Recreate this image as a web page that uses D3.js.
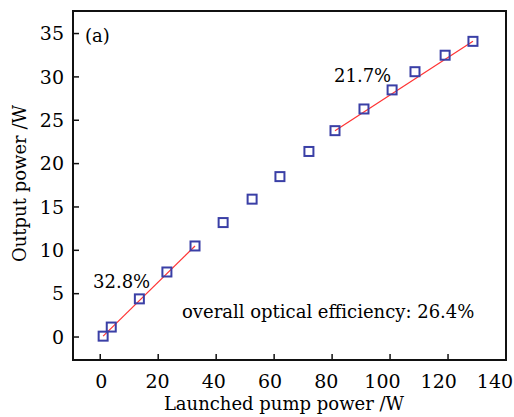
<!DOCTYPE html>
<html>
<head>
<meta charset="utf-8">
<script src="https://cdn.jsdelivr.net/npm/d3@7"></script>
<style>
  body { margin: 0; background: #fff; }
  text { font-family: "DejaVu Serif", serif; fill: #000; }
</style>
</head>
<body>
<div id="chart"></div>
<script>
/* ===== Data ===== */
const pumpPower   = [1.0, 3.8, 13.5, 23.0, 32.7, 42.4, 52.4, 62.0, 72.0, 81.0, 91.0, 100.7, 108.6, 119.0, 128.6];
const outputPower = [0.1, 1.15, 4.4, 7.5, 10.5, 13.2, 15.9, 18.5, 21.4, 23.8, 26.3, 28.5, 30.6, 32.5, 34.1];
const xTicks = [0, 20, 40, 60, 80, 100, 120, 140];
const yTicks = [0, 5, 10, 15, 20, 25, 30, 35];
// index ranges of the two fitted segments
const fitSegments = [[0, 4], [9, 14]];
const annotations = ["(a)", "32.8%", "21.7%", "overall optical efficiency: 26.4%"];

const width = 514, height = 417;
const margin = {top: 11, right: 8, bottom: 57, left: 73};

const svg = d3.select("#chart").append("svg")
              .attr("width", width)
              .attr("height", height);

const x = d3.scaleLinear()
            .domain([-9.4, 140])
            .range([margin.left, width - margin.right]);

const y = d3.scaleLinear()
            .domain([-2.65, 37.6])
            .range([height - margin.bottom, margin.top]);

// labels in the original sit a little left of their ticks towards the right end
const xLabel = d3.scaleLinear()
                 .domain([0, 140])
                 .range([x(0) + 1, x(140) - 11]);

// ticks (pointing inwards)
svg.append("g")
   .selectAll("line")
   .data(xTicks.filter(d => d < 140))
   .join("line")
   .attr("x1", d => x(d)).attr("x2", d => x(d))
   .attr("y1", height - margin.bottom).attr("y2", height - margin.bottom - 6)
   .attr("stroke", "#111").attr("stroke-width", 1.5);

svg.append("g")
   .selectAll("line")
   .data(yTicks)
   .join("line")
   .attr("x1", margin.left).attr("x2", margin.left + 6)
   .attr("y1", d => y(d)).attr("y2", d => y(d))
   .attr("stroke", "#111").attr("stroke-width", 1.5);

// tick labels
svg.append("g")
   .selectAll("text")
   .data(xTicks)
   .join("text")
   .attr("x", d => xLabel(d))
   .attr("y", height - margin.bottom + 28)
   .attr("text-anchor", "middle")
   .attr("font-size", 19)
   .text(d => d);

svg.append("g")
   .selectAll("text")
   .data(yTicks)
   .join("text")
   .attr("x", margin.left - 9)
   .attr("y", d => y(d))
   .attr("dy", "0.35em")
   .attr("text-anchor", "end")
   .attr("font-size", 19)
   .text(d => d);

// frame
svg.append("rect")
   .attr("x", margin.left).attr("y", margin.top)
   .attr("width", width - margin.left - margin.right)
   .attr("height", height - margin.top - margin.bottom)
   .attr("fill", "none")
   .attr("stroke", "#111")
   .attr("stroke-width", 2);

// fitted lines, straight between the first and last point of each segment
const line = d3.line().x(i => x(pumpPower[i])).y(i => y(outputPower[i]));
svg.append("g")
   .selectAll("path")
   .data(fitSegments)
   .join("path")
   .attr("d", d => line(d))
   .attr("fill", "none")
   .attr("stroke", "#f33")
   .attr("stroke-width", 1.2);

// square markers
svg.append("g")
   .selectAll("rect")
   .data(pumpPower.map((p, i) => [p, outputPower[i]]))
   .join("rect")
   .attr("x", d => x(d[0]) - 4.5)
   .attr("y", d => y(d[1]) - 4.5)
   .attr("width", 9).attr("height", 9)
   .attr("fill", "none")
   .attr("stroke", "#3a3fa6")
   .attr("stroke-width", 2);

// annotations
svg.append("text").attr("x", 85).attr("y", 42).attr("font-size", 18).text(annotations[0]);
svg.append("text").attr("x", 93).attr("y", 288).attr("font-size", 18).text(annotations[1]);
svg.append("text").attr("x", 334).attr("y", 82).attr("font-size", 18).text(annotations[2]);
svg.append("text").attr("x", 182).attr("y", 318).attr("font-size", 18).text(annotations[3]);

// axis titles
svg.append("text")
   .attr("x", 284)
   .attr("y", height - 7)
   .attr("text-anchor", "middle")
   .attr("font-size", 18)
   .text("Launched pump power /W");

svg.append("text")
   .attr("transform", `translate(26,${(margin.top + height - margin.bottom) / 2 - 2}) rotate(-90)`)
   .attr("text-anchor", "middle")
   .attr("font-size", 18)
   .text("Output power /W");
</script>
</body>
</html>
